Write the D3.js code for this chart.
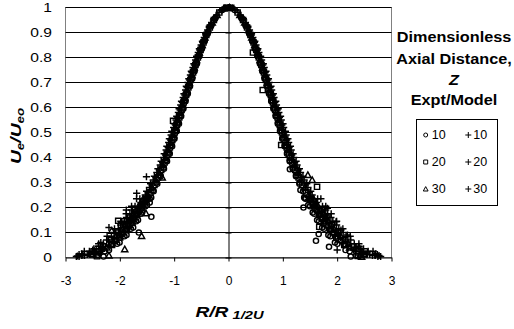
<!DOCTYPE html>
<html><head><meta charset="utf-8">
<script src="https://cdn.jsdelivr.net/npm/d3@7"></script>
<style>
body{margin:0;background:#fff}
svg{display:block;font-family:"Liberation Sans",Arial,sans-serif}
</style>
</head><body>
<svg id="c" width="514" height="329"></svg>
<script>
const xTicks=[-3,-2,-1,0,1,2,3];
const xTickLabels=["-3","-2","-1","0","1","2","3"];
const yTicks=[0,0.1,0.2,0.3,0.4,0.5,0.6,0.7,0.8,0.9,1];
const yTickLabels=["0","0.1","0.2","0.3","0.4","0.5","0.6","0.7","0.8","0.9","1"];
const legendTitle=["Dimensionless","Axial Distance,","Z","Expt/Model"];
const exptNames=["10","20","30"];
const modelNames=["10","20","30"];

// Expt, Z = 10 (circles)
const expt10=[[-0.117,0.99],[-0.237,0.96],[-0.316,0.93],[-0.383,0.90],[-0.437,0.87],[-0.486,0.84],[-0.537,0.81],[-0.588,0.78],[-0.628,0.75],[-0.668,0.72],[-0.714,0.69],[-0.758,0.66],[-0.797,0.63],[-0.835,0.60],[-0.878,0.57],[-0.922,0.54],[-0.961,0.51],[-1.000,0.48],[-1.047,0.45],[-1.094,0.42],[-1.140,0.39],[-1.192,0.36],[-1.257,0.33],[-1.325,0.30],[-1.388,0.27],[-1.423,0.24],[-1.500,0.21],[-1.590,0.18],[-1.666,0.15],[-1.755,0.12],[-1.877,0.09],[-2.005,0.06],[-2.200,0.03],
[-0.248,0.955],[-0.323,0.925],[-0.384,0.895],[-0.439,0.865],[-0.490,0.835],[-0.537,0.805],[-0.582,0.775],[-0.625,0.745],[-0.668,0.715],[-0.709,0.685],[-0.750,0.655],[-0.791,0.625],[-0.831,0.595],[-0.872,0.565],[-0.912,0.535],[-0.953,0.505],[-0.995,0.475],[-1.038,0.445],[-1.082,0.415],[-1.132,0.385],[-1.188,0.355],[-1.248,0.325],[-1.311,0.295],[-1.378,0.265],
[-1.451,0.235],[-1.529,0.205],[-1.614,0.175],[-1.699,0.145],[-1.798,0.115],[-1.915,0.085],[-2.049,0.055],[-2.275,0.025],
[-1.65,0.100],[-1.42,0.163],[-1.45,0.220],[-2.40,0.010],[-2.30,0.004],
[-0.05,0.998],[0.00,1.000],[0.06,0.997],
[0.116,0.99],[0.234,0.96],[0.313,0.93],[0.376,0.90],[0.435,0.87],[0.484,0.84],[0.530,0.81],[0.578,0.78],[0.624,0.75],[0.664,0.72],[0.706,0.69],[0.750,0.66],[0.788,0.63],[0.829,0.60],[0.872,0.57],[0.910,0.54],[0.951,0.51],[0.996,0.48],[1.036,0.45],[1.080,0.42],[1.128,0.39],[1.184,0.36],[1.244,0.33],[1.307,0.30],[1.324,0.27],[1.393,0.24],[1.468,0.21],[1.550,0.18],[1.631,0.15],[1.724,0.12],[1.838,0.09],[1.959,0.06],[2.154,0.03],
[0.246,0.955],[0.321,0.925],[0.382,0.895],[0.437,0.865],[0.487,0.835],[0.534,0.805],[0.579,0.775],[0.622,0.745],[0.665,0.715],[0.706,0.685],[0.746,0.655],[0.787,0.625],[0.827,0.595],[0.868,0.565],[0.908,0.535],[0.949,0.505],[0.990,0.475],[1.033,0.445],[1.077,0.415],[1.127,0.385],[1.182,0.355],[1.242,0.325],[1.305,0.295],[1.372,0.265],
[1.42,0.235],[1.50,0.205],[1.58,0.175],[1.665,0.145],[1.76,0.115],[1.875,0.085],[2.005,0.055],[2.23,0.025],
[1.13,0.353],[1.38,0.200],[1.41,0.237],[1.61,0.067],[1.66,0.094],[1.85,0.043],[2.35,0.008],[2.25,0.004]];
// Expt, Z = 20 (squares)
const expt20=[[-0.169,0.98],[-0.269,0.95],[-0.344,0.92],[-0.409,0.89],[-0.461,0.86],[-0.514,0.83],[-0.564,0.80],[-0.608,0.77],[-0.652,0.74],[-0.699,0.71],[-0.739,0.68],[-0.780,0.65],[-0.826,0.62],[-0.864,0.59],[-0.906,0.56],[-0.950,0.53],[-0.990,0.50],[-1.034,0.47],[-1.080,0.44],[-1.124,0.41],[-1.177,0.38],[-1.239,0.35],[-1.297,0.32],[-1.363,0.29],[-1.436,0.26],[-1.510,0.23],[-1.591,0.20],[-1.682,0.17],[-1.767,0.14],[-1.874,0.11],[-1.994,0.08],[-2.143,0.05],[-2.400,0.02],
[-1.526,0.235],[-1.609,0.205],[-1.698,0.175],[-1.788,0.145],[-1.892,0.115],[-2.015,0.085],[-2.155,0.055],[-2.394,0.025],[-2.525,0.015],
[-1.720,0.19],[-1.810,0.16],[-1.911,0.13],[-2.029,0.10],[-2.160,0.07],[-2.306,0.045],[-2.387,0.035],[-2.500,0.012],
[-2.03,0.147],[-1.98,0.130],[-1.92,0.145],[-1.02,0.547],[-2.42,0.005],
[-0.04,0.999],[0.05,0.999],
[0.168,0.98],[0.268,0.95],[0.342,0.92],[0.404,0.89],[0.462,0.86],[0.511,0.83],[0.558,0.80],[0.605,0.77],[0.652,0.74],[0.692,0.71],[0.735,0.68],[0.779,0.65],[0.819,0.62],[0.860,0.59],[0.904,0.56],[0.943,0.53],[0.985,0.50],[1.031,0.47],[1.072,0.44],[1.118,0.41],[1.174,0.38],[1.229,0.35],[1.290,0.32],[1.359,0.29],[1.425,0.26],[1.502,0.23],[1.586,0.20],[1.671,0.17],[1.758,0.14],[1.868,0.11],[1.984,0.08],[2.130,0.05],[2.388,0.02],
[1.52,0.235],[1.60,0.205],[1.69,0.175],[1.78,0.145],[1.885,0.115],[2.005,0.085],[2.145,0.055],[2.385,0.025],[2.51,0.015],
[1.715,0.19],[1.805,0.16],[1.905,0.13],[2.020,0.10],[2.150,0.07],[2.300,0.045],[2.380,0.035],[2.490,0.012],
[0.45,0.820],[0.63,0.670],[0.97,0.450],[1.63,0.283],[1.67,0.123],[2.38,0.006]];
// Expt, Z = 30 (triangles)
const expt30=[[-0.211,0.97],[-0.300,0.94],[-0.371,0.91],[-0.434,0.88],[-0.486,0.85],[-0.538,0.82],[-0.589,0.79],[-0.632,0.76],[-0.677,0.73],[-0.724,0.70],[-0.764,0.67],[-0.806,0.64],[-0.852,0.61],[-0.891,0.58],[-0.934,0.55],[-0.979,0.52],[-1.020,0.49],[-1.064,0.46],[-1.113,0.43],[-1.156,0.40],[-1.214,0.37],[-1.278,0.34],[-1.339,0.31],[-1.406,0.28],[-1.483,0.25],[-1.559,0.22],[-1.646,0.19],[-1.736,0.16],[-1.829,0.13],[-1.942,0.10],[-2.070,0.07],[-2.241,0.04],[-2.420,0.01],
[-1.571,0.235],[-1.657,0.205],[-1.748,0.175],[-1.841,0.145],[-1.948,0.115],[-2.075,0.085],[-2.219,0.055],[-2.465,0.025],
[-2.15,0.107],[-1.91,0.033],[-1.60,0.086],[-1.52,0.177],[-1.22,0.320],[-2.20,0.008],
[0.02,1.000],[-0.08,0.996],
[0.210,0.97],[0.299,0.94],[0.372,0.91],[0.429,0.88],[0.484,0.85],[0.538,0.82],[0.583,0.79],[0.629,0.76],[0.677,0.73],[0.717,0.70],[0.760,0.67],[0.805,0.64],[0.845,0.61],[0.887,0.58],[0.932,0.55],[0.971,0.52],[1.015,0.49],[1.062,0.46],[1.104,0.43],[1.150,0.40],[1.211,0.37],[1.268,0.34],[1.332,0.31],[1.402,0.28],[1.473,0.25],[1.551,0.22],[1.641,0.19],[1.724,0.16],[1.823,0.13],[1.932,0.10],[2.057,0.07],[2.230,0.04],[2.420,0.01],
[1.565,0.235],[1.65,0.205],[1.74,0.175],[1.835,0.145],[1.94,0.115],[2.065,0.085],[2.21,0.055],[2.455,0.025],
[1.46,0.330],[1.54,0.310],[2.45,0.003]];
// Model, Z = 10 (plus)
const model10=[[-0.121,0.99],[-0.244,0.96],[-0.326,0.93],[-0.392,0.90],[-0.450,0.87],[-0.505,0.84],[-0.554,0.81],[-0.602,0.78],[-0.647,0.75],[-0.691,0.72],[-0.736,0.69],[-0.778,0.66],[-0.821,0.63],[-0.863,0.60],[-0.906,0.57],[-0.948,0.54],[-0.991,0.51],[-1.034,0.48],[-1.079,0.45],[-1.125,0.42],[-1.175,0.39],[-1.233,0.36],[-1.295,0.33],[-1.361,0.30],[-1.431,0.27],[-1.505,0.24],[-1.587,0.21],[-1.675,0.18],[-1.763,0.15],[-1.863,0.12],[-1.986,0.09],[-2.117,0.06],[-2.328,0.03],
[-1.632,0.235],[-1.720,0.205],[-1.815,0.175],[-1.912,0.145],[-2.023,0.115],[-2.155,0.085],[-2.305,0.055],[-2.560,0.025],[-2.70,0.015],
[-2.45,0.018],[-2.55,0.012],[-2.65,0.008],[-2.75,0.004],
[0.00,1.000],
[0.119,0.99],[0.242,0.96],[0.322,0.93],[0.388,0.90],[0.446,0.87],[0.499,0.84],[0.548,0.81],[0.596,0.78],[0.641,0.75],[0.685,0.72],[0.728,0.69],[0.770,0.66],[0.813,0.63],[0.855,0.60],[0.897,0.57],[0.938,0.54],[0.981,0.51],[1.024,0.48],[1.069,0.45],[1.113,0.42],[1.163,0.39],[1.221,0.36],[1.283,0.33],[1.347,0.30],[1.417,0.27],[1.491,0.24],[1.571,0.21],[1.659,0.18],[1.745,0.15],[1.845,0.12],[1.966,0.09],[2.095,0.06],[2.304,0.03],
[1.64,0.235],[1.73,0.205],[1.825,0.175],[1.92,0.145],[2.03,0.115],[2.165,0.085],[2.315,0.055],[2.57,0.025],[2.71,0.015],
[2.45,0.018],[2.55,0.012],[2.65,0.008],[2.75,0.004]];
// Model, Z = 20 (plus)
const model20=[[-0.174,0.98],[-0.277,0.95],[-0.354,0.92],[-0.418,0.89],[-0.475,0.86],[-0.529,0.83],[-0.578,0.80],[-0.626,0.77],[-0.672,0.74],[-0.717,0.71],[-0.761,0.68],[-0.804,0.65],[-0.848,0.62],[-0.890,0.59],[-0.933,0.56],[-0.976,0.53],[-1.020,0.50],[-1.065,0.47],[-1.110,0.44],[-1.158,0.41],[-1.212,0.38],[-1.273,0.35],[-1.336,0.32],[-1.405,0.29],[-1.476,0.26],[-1.556,0.23],[-1.639,0.20],[-1.730,0.17],[-1.821,0.14],[-1.931,0.11],[-2.054,0.08],[-2.205,0.05],[-2.472,0.02],
[-1.488,0.235],[-1.569,0.205],[-1.656,0.175],[-1.743,0.145],[-1.845,0.115],[-1.965,0.085],[-2.102,0.055],[-2.334,0.025],[-2.463,0.015],
[-1.785,0.19],[-1.879,0.16],[-1.984,0.13],[-2.106,0.10],[-2.242,0.07],[-2.394,0.045],[-2.478,0.035],[-2.750,0.012],
[-2.60,0.012],[-2.70,0.008],[-2.80,0.004],
[-0.06,0.998],[0.07,0.998],
[0.175,0.98],[0.279,0.95],[0.356,0.92],[0.420,0.89],[0.478,0.86],[0.532,0.83],[0.581,0.80],[0.629,0.77],[0.675,0.74],[0.721,0.71],[0.765,0.68],[0.808,0.65],[0.852,0.62],[0.895,0.59],[0.938,0.56],[0.981,0.53],[1.025,0.50],[1.070,0.47],[1.115,0.44],[1.163,0.41],[1.218,0.38],[1.279,0.35],[1.343,0.32],[1.411,0.29],[1.483,0.26],[1.563,0.23],[1.647,0.20],[1.738,0.17],[1.830,0.14],[1.940,0.11],[2.064,0.08],[2.216,0.05],[2.485,0.02],
[1.495,0.235],[1.575,0.205],[1.66,0.175],[1.75,0.145],[1.85,0.115],[1.97,0.085],[2.11,0.055],[2.34,0.025],[2.47,0.015],
[1.790,0.19],[1.885,0.16],[1.990,0.13],[2.110,0.10],[2.250,0.07],[2.400,0.045],[2.485,0.035],[2.740,0.012],
[2.60,0.012],[2.70,0.008],[2.80,0.004]];
// Model, Z = 30 (plus)
const model30=[[-0.218,0.97],[-0.311,0.94],[-0.384,0.91],[-0.446,0.88],[-0.503,0.85],[-0.556,0.82],[-0.606,0.79],[-0.654,0.76],[-0.701,0.73],[-0.746,0.70],[-0.790,0.67],[-0.834,0.64],[-0.879,0.61],[-0.922,0.58],[-0.966,0.55],[-1.010,0.52],[-1.056,0.49],[-1.101,0.46],[-1.148,0.43],[-1.196,0.40],[-1.256,0.37],[-1.319,0.34],[-1.385,0.31],[-1.455,0.28],[-1.532,0.25],[-1.613,0.22],[-1.704,0.19],[-1.793,0.16],[-1.893,0.13],[-2.009,0.10],[-2.139,0.07],[-2.319,0.04],[-2.681,0.01],
[-0.271,0.955],[-0.353,0.925],[-0.420,0.895],[-0.480,0.865],[-0.536,0.835],[-0.587,0.805],[-0.637,0.775],[-0.684,0.745],[-0.730,0.715],[-0.776,0.685],[-0.820,0.655],[-0.865,0.625],[-0.909,0.595],[-0.953,0.565],[-0.998,0.535],[-1.043,0.505],[-1.088,0.475],[-1.135,0.445],[-1.183,0.415],[-1.238,0.385],[-1.299,0.355],[-1.364,0.325],[-1.434,0.295],[-1.507,0.265],
[-1.692,0.235],[-1.784,0.205],[-1.883,0.175],[-1.982,0.145],[-2.098,0.115],[-2.234,0.085],[-2.390,0.055],[-2.654,0.025],
[-1.88,0.190],[-1.69,0.257],[-1.51,0.323],[-2.20,0.120],[-2.35,0.060],[-2.50,0.030],[-2.78,0.006],
[0.03,0.999],[-0.10,0.993],
[0.219,0.97],[0.312,0.94],[0.386,0.91],[0.448,0.88],[0.506,0.85],[0.559,0.82],[0.609,0.79],[0.657,0.76],[0.704,0.73],[0.749,0.70],[0.794,0.67],[0.838,0.64],[0.883,0.61],[0.927,0.58],[0.971,0.55],[1.015,0.52],[1.061,0.49],[1.107,0.46],[1.154,0.43],[1.202,0.40],[1.262,0.37],[1.326,0.34],[1.392,0.31],[1.462,0.28],[1.539,0.25],[1.621,0.22],[1.712,0.19],[1.802,0.16],[1.902,0.13],[2.019,0.10],[2.150,0.07],[2.330,0.04],[2.694,0.01],
[0.274,0.955],[0.356,0.925],[0.424,0.895],[0.484,0.865],[0.540,0.835],[0.591,0.805],[0.641,0.775],[0.689,0.745],[0.735,0.715],[0.781,0.685],[0.825,0.655],[0.870,0.625],[0.914,0.595],[0.958,0.565],[1.003,0.535],[1.048,0.505],[1.093,0.475],[1.140,0.445],[1.189,0.415],[1.244,0.385],[1.305,0.355],[1.370,0.325],[1.440,0.295],[1.513,0.265],
[1.70,0.235],[1.79,0.205],[1.89,0.175],[1.99,0.145],[2.105,0.115],[2.24,0.085],[2.40,0.055],[2.66,0.025],
[1.82,0.197],[1.98,0.143],[2.07,0.110],[2.19,0.090],[2.40,0.043],[2.56,0.023],[2.77,0.008],[2.00,0.030]];

const FONT='"Liberation Sans",Arial,sans-serif';
const svg=d3.select("#c");
const x=d3.scaleLinear().domain([-3,3]).range([65.5,391.5]);
const y=d3.scaleLinear().domain([0,1]).range([257.5,7.5]);

// plot area border
svg.append("rect").attr("x",x(-3)).attr("y",y(1)).attr("width",x(3)-x(-3)).attr("height",y(0)-y(1))
  .attr("fill","none").attr("stroke","#808080");
// gridlines
svg.append("g").selectAll("line").data(yTicks.filter(d=>d>0)).join("line")
  .attr("x1",x(-3)).attr("x2",x(3)).attr("y1",d=>y(d)).attr("y2",d=>y(d)).attr("stroke","#000");

// x axis
const xa=svg.append("g").attr("transform",`translate(0,${y(0)})`)
  .call(d3.axisBottom(x).tickValues(xTicks).tickSize(4).tickSizeOuter(0).tickPadding(15)
  .tickFormat((d,i)=>xTickLabels[i]));
xa.attr("font-size",12).attr("font-family",FONT);
xa.selectAll("path,line").attr("stroke","#000");
xa.selectAll("text").attr("fill","#000");

// y axis at x = 0, ticks crossing
const ya=svg.append("g").attr("transform",`translate(${x(0)},0)`)
  .call(d3.axisRight(y).tickValues(yTicks).tickSize(3).tickSizeOuter(0).tickFormat(""));
ya.selectAll(".tick line").attr("x1",-3).attr("stroke","#000");
ya.select(".domain").attr("stroke","#000");

// y tick labels at left of plot area
svg.append("g").selectAll("text").data(yTicks).join("text")
  .attr("transform",(d)=>`translate(52,${y(d)+4.3}) scale(1.3,1)`)
  .attr("text-anchor","end").attr("font-size",12).attr("font-family",FONT).attr("fill","#000")
  .text((d,i)=>yTickLabels[i]);

// marker shapes
const shapes={
  circle:"M2.6,0A2.6,2.6 0 1,1 -2.6,0A2.6,2.6 0 1,1 2.6,0Z",
  square:"M-2.6,-2.6H2.6V2.6H-2.6Z",
  triangle:"M0,-3.1L3.1,2.5H-3.1Z",
  plus:"M-3.6,0H3.6M0,-3.6V3.6"
};
const series=[
  {data:expt10,shape:"circle"},{data:expt20,shape:"square"},{data:expt30,shape:"triangle"},
  {data:model10,shape:"plus"},{data:model20,shape:"plus"},{data:model30,shape:"plus"}
];
series.forEach(s=>{
  svg.append("g").selectAll("path").data(s.data).join("path")
    .attr("transform",d=>`translate(${x(d[0])},${y(d[1])})`)
    .attr("d",shapes[s.shape]).attr("fill","none").attr("stroke","#000").attr("stroke-width",1.45);
});

// axis titles
const xt=svg.append("text").attr("transform","translate(229.5,316.7) scale(1.28,1)")
  .attr("text-anchor","middle").attr("font-family",FONT).attr("font-weight","bold").attr("font-style","italic").attr("fill","#000");
xt.append("tspan").attr("font-size",15).text("R/R");
xt.append("tspan").attr("font-size",11.5).attr("dy",2.6).text(" 1/2U");

const yt=svg.append("text").attr("transform","translate(20.5,164) rotate(-90) scale(1.28,1)")
  .attr("text-anchor","start").attr("font-family",FONT).attr("font-weight","bold").attr("font-style","italic").attr("fill","#000");
yt.append("tspan").attr("font-size",15).text("U");
yt.append("tspan").attr("font-size",10.5).attr("dy",3).text("e");
yt.append("tspan").attr("font-size",15).attr("dy",-3).text("/U");
yt.append("tspan").attr("font-size",10.5).attr("dy",3).text("eo");

// legend title
const titleY=[42,64,85,105];
legendTitle.forEach((t,i)=>{
  svg.append("text").attr("transform",`translate(454,${titleY[i]}) scale(1.16,1)`)
    .attr("text-anchor","middle").attr("font-family",FONT).attr("font-weight","bold")
    .attr("font-style",t==="Z"?"italic":"normal").attr("font-size",14).attr("fill","#000").text(t);
});
// legend box
svg.append("rect").attr("x",416.5).attr("y",119.5).attr("width",81).attr("height",86)
  .attr("fill","#fff").attr("stroke","#000");
const legShapes={
  circle:"M2,0A2,2 0 1,1 -2,0A2,2 0 1,1 2,0Z",
  square:"M-2,-2H2V2H-2Z",
  triangle:"M0,-2.4L2.4,2H-2.4Z",
  plus:"M-3,0H3M0,-3V3"
};
const rowY=[135,162,189];
const exptShapes=["circle","square","triangle"];
exptNames.forEach((n,i)=>{
  svg.append("path").attr("transform",`translate(425.7,${rowY[i]})`).attr("d",legShapes[exptShapes[i]])
    .attr("fill","none").attr("stroke","#000");
  svg.append("text").attr("x",431.7).attr("y",rowY[i]+4.3).attr("font-size",12.5).attr("font-family",FONT).text(n);
});
modelNames.forEach((n,i)=>{
  svg.append("path").attr("transform",`translate(468.3,${rowY[i]})`).attr("d",legShapes.plus)
    .attr("fill","none").attr("stroke","#000");
  svg.append("text").attr("x",473.3).attr("y",rowY[i]+4.3).attr("font-size",12.5).attr("font-family",FONT).text(n);
});
</script>
</body></html>
